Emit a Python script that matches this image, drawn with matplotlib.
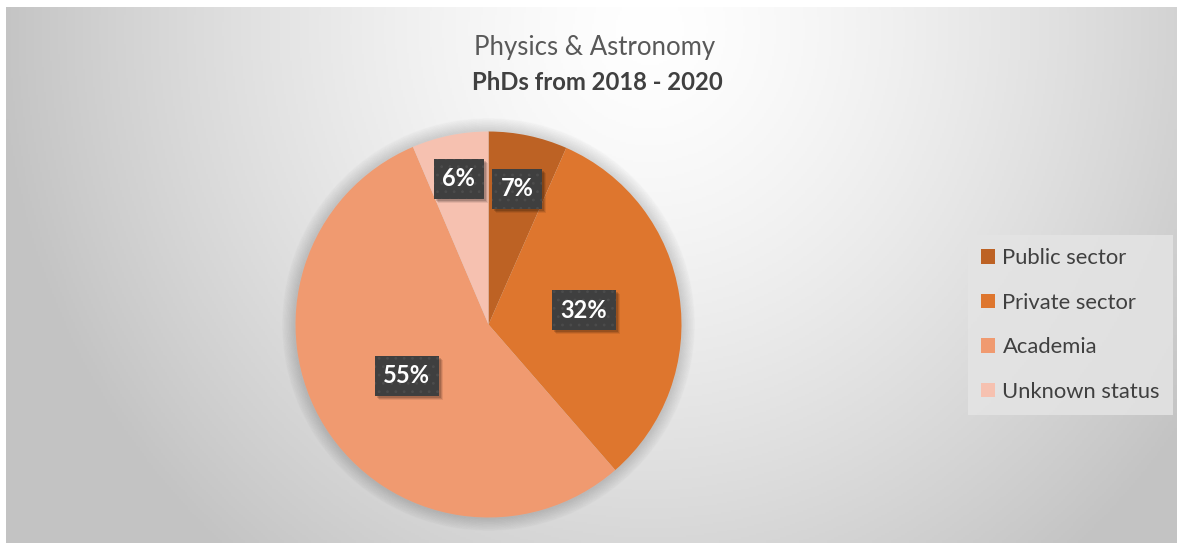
import numpy as np
import matplotlib.pyplot as plt
from matplotlib.transforms import IdentityTransform
from matplotlib.patches import Circle, Rectangle

# data
labels = ['Public sector', 'Private sector', 'Academia', 'Unknown status']
shares = [6.6, 32.0, 55.0, 6.4]
colors = ['#BD6224', '#DE762E', '#F09A70', '#F6C1B0']
label_dist = [0.72, 0.50, 0.50, 0.77]

plt.rcParams['font.family'] = ['Lato', 'DejaVu Sans']
plt.rcParams['hatch.linewidth'] = 0.8

W, H = 1179, 543
fig = plt.figure(figsize=(W / 100, H / 100), dpi=100)
fig.patch.set_facecolor('white')

# radial gradient background of the chart area
bg = fig.add_axes([6 / W, 0, (W - 8) / W, (H - 7) / H])
bg.set_axis_off()
yy, xx = np.mgrid[0:1:300j, 0:1:600j]
d = np.sqrt(((xx - 0.55) / 0.52) ** 2 + ((yy - 0.04) / 1.2) ** 2)
g = 255 - 60 * np.clip(d / 1.08, 0, 1) ** 1.4
img = np.dstack([g, g, g]).astype(np.uint8)
bg.imshow(img, aspect='auto', extent=[0, 1, 1, 0], interpolation='bilinear')
bg.set_xlim(0, 1)
bg.set_ylim(1, 0)

# pie
ax = fig.add_axes([(488.5 - 193) / W, (H - 324.5 - 193) / H, 386 / W, 386 / H])
for k in range(1, 12):
    ax.add_patch(Circle((0, 0), 1 + k * 0.006, color='black', alpha=0.012,
                        clip_on=False, zorder=0))
wedges, _ = ax.pie(shares, colors=colors, startangle=90, counterclock=False,
                   radius=1, wedgeprops=dict(linewidth=0, zorder=1))
ax.set_xlim(-1, 1)
ax.set_ylim(-1, 1)

pct_texts = []
for i, (w, v, r) in enumerate(zip(wedges, shares, label_dist)):
    mid = np.deg2rad((w.theta1 + w.theta2) / 2)
    t = ax.text(r * np.cos(mid), r * np.sin(mid), f'{v:.0f}%', ha='center', va='center',
                color='white', fontsize=17, fontweight='bold', zorder=14 - 2 * i,
                bbox=dict(boxstyle='square,pad=0.36', fc='#3F3F3F', ec='#4C4C4C', lw=0,
                          hatch='..'))
    pct_texts.append(t)

# soft drop shadows under the label boxes
fig.canvas.draw()
for t in pct_texts:
    bb = t.get_bbox_patch().get_window_extent()
    for off, a in [(4, 0.08), (3, 0.12), (2, 0.15)]:
        ax.add_patch(Rectangle((bb.x0 + off, bb.y0 - off), bb.width, bb.height,
                               transform=IdentityTransform(), fc='black', alpha=a,
                               lw=0, clip_on=False, zorder=t.get_zorder() - 1))

# titles
fig.text(595 / W, 1 - 47 / H, 'Physics & Astronomy', ha='center', va='center',
         fontsize=18.5, color='#595959')
fig.text(597 / W, 1 - 82 / H, 'PhDs from 2018 - 2020', ha='center', va='center',
         fontsize=17.2, fontweight='bold', color='#404040')

leg = fig.legend(wedges, labels, loc='upper left', bbox_to_anchor=(968 / W, 1 - 235 / H),
                 frameon=True, fancybox=False, fontsize=15.8, labelcolor='#404040',
                 handlelength=0.62, handleheight=0.62, handletextpad=0.35,
                 labelspacing=1.12, borderpad=0.6, borderaxespad=0)
leg.get_frame().set_facecolor('#E4E4E4')
leg.get_frame().set_edgecolor('none')
leg.get_frame().set_alpha(0.85)

fig.savefig('out.png', dpi=100)
